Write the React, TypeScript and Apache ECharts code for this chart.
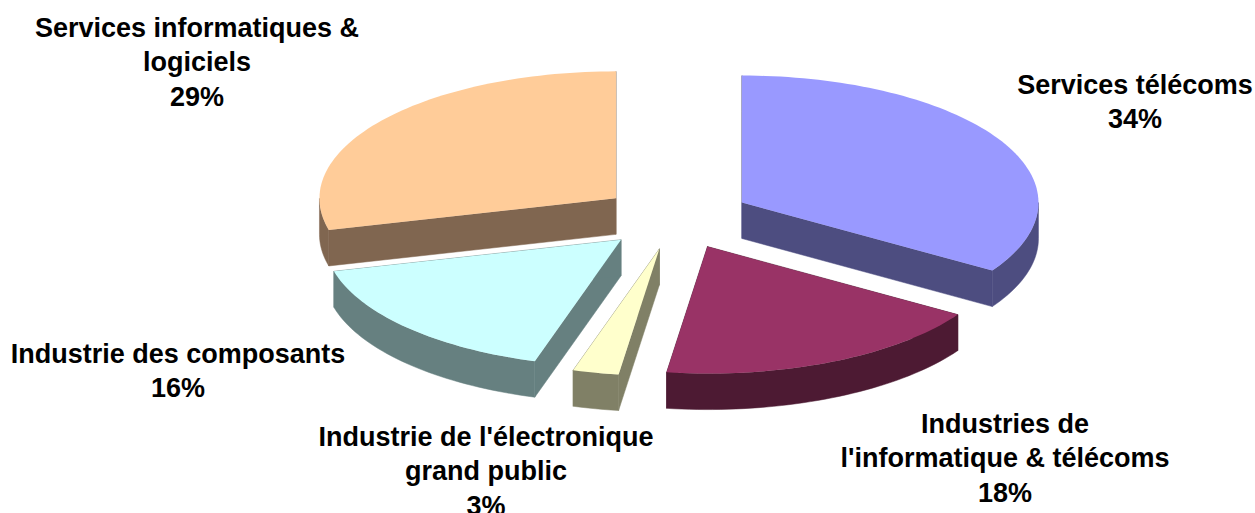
import React, { useEffect, useRef } from "react";
import * as echarts from "echarts";

const categories = [
  "Services télécoms",
  "Industries de\nl'informatique & télécoms",
  "Industrie de l'électronique\ngrand public",
  "Industrie des composants",
  "Services informatiques &\nlogiciels",
];
const values = [34, 18.2, 2.5, 16.3, 29];
const percentLabels = ["34%", "18%", "3%", "16%", "29%"];
const topColors = ["#9999FF", "#993366", "#FFFFCC", "#CCFFFF", "#FFCC99"];
const sideColors = ["#4D4D80", "#4D1A33", "#808066", "#668080", "#806650"];

// label centres (x, y of the block's middle)
const labelCentres = [
  [1135, 102],
  [1005, 458],
  [486, 471],
  [178, 371],
  [197, 62],
];

const CX = 675.7;
const CY = 217.8;
const RX = 296.5;
const RY = 127;
const DEPTH = 36;
const EXPLODE_X = 75.6;
const EXPLODE_Y = 31.7;
const FONT = '"Liberation Sans", Arial, sans-serif';

const total = values.reduce((a, b) => a + b, 0);

function sliceAngles(i: number) {
  let start = 0;
  for (let k = 0; k < i; k++) start += (values[k] / total) * 360;
  return [start, start + (values[i] / total) * 360];
}

function arcPoints(cx: number, cy: number, a0: number, a1: number) {
  const n = Math.max(2, Math.ceil(Math.abs(a1 - a0) / 1.5));
  const pts: number[][] = [];
  for (let k = 0; k <= n; k++) {
    const t = ((a0 + ((a1 - a0) * k) / n) * Math.PI) / 180;
    pts.push([cx + RX * Math.sin(t), cy - RY * Math.cos(t)]);
  }
  return pts;
}

function renderSlice(params: any) {
  const i = params.dataIndex;
  const [a0, a1] = sliceAngles(i);
  const mid = (((a0 + a1) / 2) * Math.PI) / 180;
  const cx = CX + EXPLODE_X * Math.sin(mid);
  const cy = CY - EXPLODE_Y * Math.cos(mid);
  const z = Math.round(cy) * 10;
  const children: any[] = [];
  const side = { fill: sideColors[i], stroke: sideColors[i], lineWidth: 0.5 };

  [a0, a1].forEach((a) => {
    const rim = arcPoints(cx, cy, a, a)[0];
    children.push({
      type: "polygon",
      z2: z,
      silent: true,
      shape: {
        points: [
          [cx, cy],
          rim,
          [rim[0], rim[1] + DEPTH],
          [cx, cy + DEPTH],
        ],
      },
      style: side,
    });
  });

  const w0 = Math.max(a0, 90);
  const w1 = Math.min(a1, 270);
  if (w1 > w0) {
    const upper = arcPoints(cx, cy, w0, w1);
    const lower = arcPoints(cx, cy + DEPTH, w0, w1).reverse();
    children.push({
      type: "polygon",
      z2: z + 1,
      silent: true,
      shape: { points: upper.concat(lower) },
      style: side,
    });
  }

  children.push({
    type: "polygon",
    z2: z + 2,
    silent: true,
    shape: { points: [[cx, cy]].concat(arcPoints(cx, cy, a0, a1)) },
    style: { fill: topColors[i] },
  });

  return { type: "group", children };
}

export default function App() {
  const ref = useRef<HTMLDivElement>(null);
  useEffect(() => {
    document.body.style.margin = "0";
    const chart = echarts.init(ref.current!, undefined, { renderer: "svg" });
    chart.setOption({
      animation: false,
      backgroundColor: "#FFFFFF",
      series: [
        {
          type: "custom",
          coordinateSystem: "none",
          silent: true,
          data: values.map((v, i) => ({ name: categories[i], value: [v] })),
          renderItem: renderSlice,
        },
      ],
      graphic: categories.map((c, i) => ({
        type: "text",
        x: labelCentres[i][0],
        y: labelCentres[i][1],
        silent: true,
        style: {
          text: c + "\n" + percentLabels[i],
          fill: "#000000",
          font: `bold 27px ${FONT}`,
          lineHeight: 34.5,
          align: "center",
          verticalAlign: "middle",
        },
      })),
    });
    return () => chart.dispose();
  }, []);
  return <div ref={ref} style={{ width: 1255, height: 513 }} />;
}
